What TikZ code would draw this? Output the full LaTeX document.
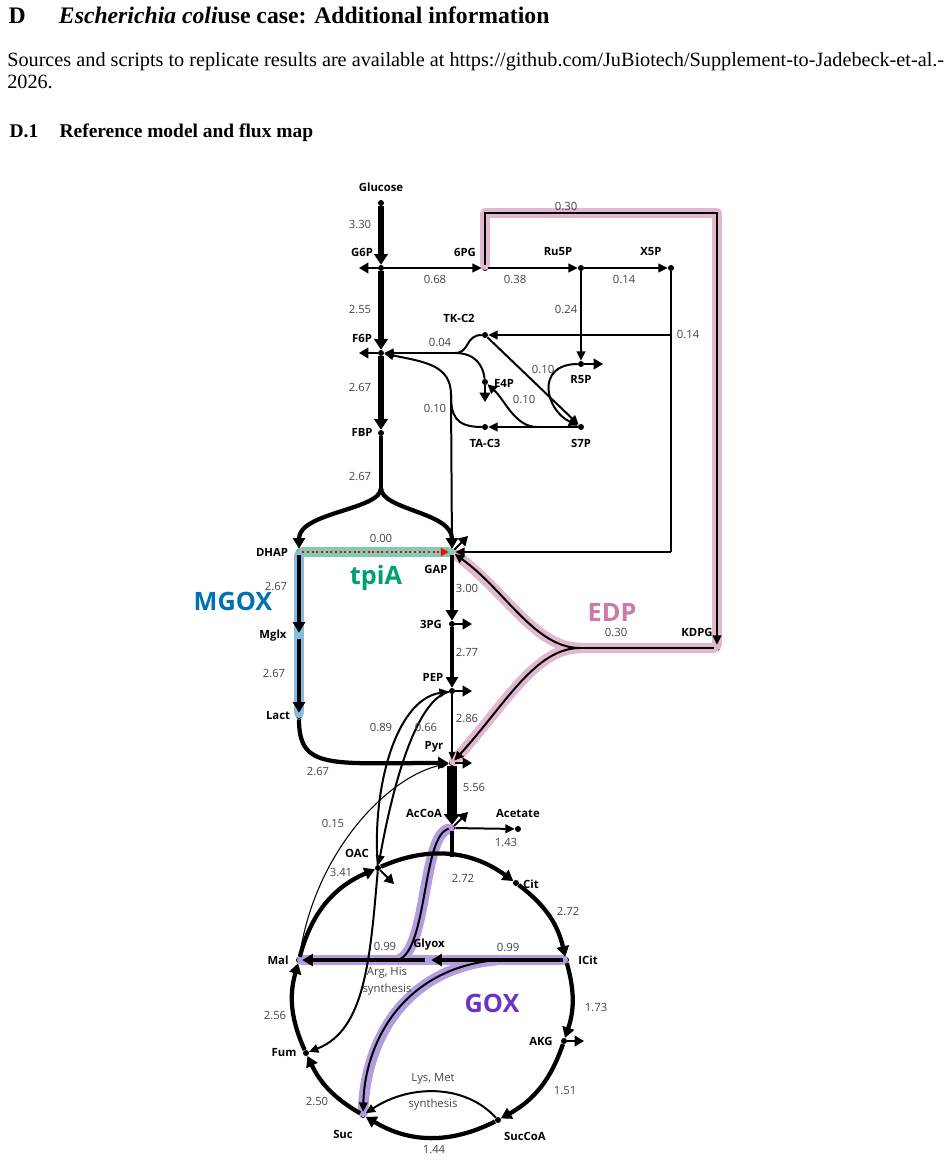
\documentclass[tikz,border=0pt]{standalone}
\usepackage{fontspec}
\setmainfont{Liberation Serif}
\setsansfont{Open Sans}
\usepackage{tikz}
\usetikzlibrary{positioning}
\usetikzlibrary{arrows.meta}
\definecolor{numgray}{HTML}{444444}
\definecolor{edppink}{HTML}{E2B8D0}
\definecolor{edptext}{HTML}{CC79A7}
\definecolor{mgblue}{HTML}{86BCDD}
\definecolor{mgtext}{HTML}{0072B2}
\definecolor{tpgreen}{HTML}{7FCCB2}
\definecolor{tptext}{HTML}{009E73}
\definecolor{goxpurple}{HTML}{B39DE0}
\definecolor{goxtext}{HTML}{6A32C8}
\tikzset {
  % metabolite dots
  met/.style = {circle, fill, inner sep=0pt, minimum size=4.5pt},
  lab/.style = {font=\sffamily\bfseries\fontsize{8.5}{10}\selectfont},
  num/.style = {font=\sffamily\fontsize{8.5}{10}\selectfont, text=numgray},
  big/.style = {font=\sffamily\bfseries\fontsize{19}{20}\selectfont},
  % flux widths
  f0/.style={line width=0.8pt, -{Triangle[length=6pt,width=5pt]}},
  f1/.style={line width=1.5pt, -{Triangle[length=7pt,width=6.5pt]}},
  f2/.style={line width=3.2pt, -{Triangle[length=8pt,width=9pt]}},
  f3/.style={line width=5pt, -{Triangle[length=8pt,width=10pt]}},
  efflux/.style={line width=1.5pt, -{Triangle[length=7pt,width=8pt]}},
  % pathway highlights
  hl/.style={line width=8pt, line cap=round, line join=round},
}
\begin{document}
\begin{tikzpicture}[x=0.0264cm, y=-0.0264cm]
  \useasboundingbox (0,0) rectangle (951,1162);

  % heading and text
  \node[anchor=west, font=\bfseries\fontsize{17.8}{20}\selectfont] (hd) at (4,15) {D\hspace{1.4em}\textit{Escherichia coli}use case: Additional information};
  \node[anchor=north west, align=left, inner sep=0pt, font=\fontsize{15.2}{16.5}\selectfont] (par) at (7,52) {Sources and scripts to replicate results are available at https://github.com/JuBiotech/Supplement-to-Jadebeck-et-al.-\\2026.};
  \node[anchor=west, font=\bfseries\fontsize{14.6}{16}\selectfont] (sec) at (5,133) {D.1\hspace{1.1em}Reference model and flux map};

  % metabolites
  \node[met] (Glc) at (381,203) {};
  \node[met] (G6P) at (381,268) {};
  \node[met] (6PG) at (485,268) {};
  \node[met] (Ru5P) at (581,268) {};
  \node[met] (X5P) at (671,268) {};
  \node[met] (F6P) at (381,353) {};
  \node[met] (TKC2) at (485,335) {};
  \node[met] (R5P) at (581,364) {};
  \node[met] (E4P) at (485,382) {};
  \node[met] (TAC3) at (485,427) {};
  \node[met] (S7P) at (581,427) {};
  \node[met] (FBP) at (381,433) {};
  \node[met] (DHAP) at (299,552) {};
  \node[met] (GAP) at (452,552) {};
  \node[met] (KDPG) at (717,648) {};
  \node[met] (3PG) at (452,624) {};
  \node[met] (Mglx) at (299,636) {};
  \node[met] (PEP) at (452,691) {};
  \node[met] (Lact) at (299,716) {};
  \node[met] (Pyr) at (452,763) {};
  \node[met] (AcCoA) at (452,828) {};
  \node[met] (Acet) at (518,829) {};
  \node[met] (OAC) at (378,868) {};
  \node[met] (Cit) at (516,883) {};
  \node[met] (ICit) at (566,960) {};
  \node[met] (Glyox) at (428,960) {};
  \node[met] (Mal) at (299,960) {};
  \node[met] (AKG) at (564,1041) {};
  \node[met] (Fum) at (306,1053) {};
  \node[met] (Suc) at (363,1115) {};
  \node[met] (SucCoA) at (498,1120) {};

  \coordinate (pp1) at (485,213);
  \coordinate (pp2) at (717,213);
  \coordinate (x5a) at (671,335);
  \coordinate (x5b) at (671,552);
  \coordinate (tkj) at (455,353);
  \coordinate (taj) at (451,395);
  \coordinate (s7j) at (537,427);
  \coordinate (fbj) at (381,488);
  \coordinate (edj) at (580,648);
  \coordinate (top) at (452,857);
  \coordinate (gxj) at (398,960);
  \coordinate (icj) at (497,960);

  % highlights
  \draw[hl, edppink] (6PG) -- (pp1) -- (pp2) -- (KDPG) -- (edj);
  \draw[hl, edppink] (edj) .. controls (535,648) and (505,590) .. (GAP);
  \draw[hl, edppink] (edj) .. controls (535,648) and (505,705) .. (Pyr);
  \draw[hl, tpgreen] (DHAP) -- (GAP);
  \draw[hl, mgblue] (DHAP) -- (Lact);
  \draw[hl, goxpurple] (ICit) -- (Mal);
  \draw[hl, goxpurple] (AcCoA) .. controls (422,835) and (428,950) .. (gxj);
  \draw[hl, goxpurple] (icj) .. controls (405,968) and (365,1040) .. (Suc);

  % upper glycolysis and PPP
  \draw[f3] (Glc) -- (G6P);
  \draw[efflux] (G6P) -- ++(-22,0);
  \draw[f1] (G6P) -- (6PG);
  \draw[f1] (6PG) -- (Ru5P);
  \draw[f1] (Ru5P) -- (X5P);
  \draw[f1] (6PG) -- (pp1) -- (pp2) -- (KDPG);
  \draw[f1] (Ru5P) -- (R5P);
  \draw[efflux] (R5P) -- ++(22,0);
  \draw[line width=1.5pt] (X5P) -- (x5b);
  \draw[f1] (x5a) -- (TKC2);
  \draw[f1] (x5b) -- (GAP);
  \draw[f3] (G6P) -- (F6P);
  \draw[efflux] (F6P) -- ++(-22,0);
  \draw[f3] (F6P) -- (FBP);
  \draw[line width=1.5pt] (TKC2) .. controls (465,335) and (470,353) .. (tkj);
  \draw[f1] (tkj) -- (F6P);
  \draw[line width=1.5pt] (tkj) .. controls (475,353) and (483,365) .. (E4P);
  \draw[efflux] (E4P) -- ++(0,20);
  \draw[f1] (TKC2) -- (S7P);
  \draw[f1] (R5P) .. controls (535,364) and (545,410) .. (S7P);
  \draw[f1] (S7P) -- (TAC3);
  \draw[f1] (s7j) .. controls (515,427) and (505,400) .. (E4P);
  \draw[line width=1.5pt] (TAC3) .. controls (455,427) and (451,415) .. (taj);
  \draw[f1] (taj) .. controls (451,365) and (425,362) .. (F6P);
  \draw[f1] (taj) -- (GAP);

  % lower glycolysis
  \draw[line width=3.2pt] (FBP) -- (fbj);
  \draw[f2] (fbj) .. controls (381,510) and (299,512) .. (DHAP);
  \draw[f2] (fbj) .. controls (381,510) and (452,512) .. (GAP);
  \draw[red, line width=1.5pt, dotted, -{Triangle[length=6pt,width=6pt]}] (DHAP) -- (GAP);
  \draw[efflux] (GAP) -- ++(16,-16);
  \draw[f2] (GAP) -- (3PG);
  \draw[efflux] (3PG) -- ++(20,0);
  \draw[f2] (3PG) -- (PEP);
  \draw[efflux] (PEP) -- ++(20,0);
  \draw[f0] (PEP) -- (Pyr);
  \draw[line width=1.5pt] (KDPG) -- (edj);
  \draw[f1] (edj) .. controls (535,648) and (505,590) .. (GAP);
  \draw[f1] (edj) .. controls (535,648) and (505,705) .. (Pyr);
  \draw[f2] (DHAP) -- (Mglx);
  \draw[f2] (Mglx) -- (Lact);
  \draw[f2] (Lact) .. controls (299,770) and (330,763) .. (Pyr);
  \draw[efflux] (Pyr) -- ++(20,0);
  \draw[line width=7pt, -{Triangle[length=8pt,width=12pt]}] (Pyr) -- (AcCoA);

  % TCA cycle and shunt
  \draw[f1] (AcCoA) -- (Acet);
  \draw[efflux] (AcCoA) -- ++(16,-16);
  \draw[line width=3pt] (AcCoA) -- (top);
  \draw[f1] (OAC) .. controls (372,790) and (395,700) .. (PEP);
  \draw[f1] (PEP) .. controls (415,700) and (392,790) .. (OAC);
  \draw[efflux] (OAC) -- ++(16,16);
  \draw[f0] (Mal) .. controls (315,850) and (390,775) .. (Pyr);
  \draw[f1] (OAC) .. controls (370,960) and (365,1030) .. (Fum);
  \draw[f2] (Mal) to[bend left=26] (OAC);
  \draw[f2] (OAC) to[bend left=30] (Cit);
  \draw[f2] (Cit) to[bend left=20] (ICit);
  \draw[f2] (ICit) to[bend left=17] (AKG);
  \draw[efflux] (AKG) -- ++(20,0);
  \draw[f2] (AKG) to[bend left=21] (SucCoA);
  \draw[f2] (SucCoA) to[bend left=29] (Suc);
  \draw[f1] (SucCoA) .. controls (465,1084) and (410,1084) .. (Suc);
  \draw[f2] (Suc) to[bend left=17] (Fum);
  \draw[f2] (Fum) to[bend left=20] (Mal);
  \draw[f2] (ICit) -- (Glyox);
  \draw[f2] (Glyox) -- (Mal);
  \draw[line width=1.5pt] (AcCoA) .. controls (422,835) and (428,950) .. (gxj);
  \draw[f1] (icj) .. controls (405,968) and (365,1040) .. (Suc);

  % metabolite names
  \node[lab] (lGlc) at (381,187) {Glucose};
  \node[lab] (lG6P) at (362,252) {G6P};
  \node[lab] (l6PG) at (465,252) {6PG};
  \node[lab] (lRu5P) at (558,252) {Ru5P};
  \node[lab] (lX5P) at (651,252) {X5P};
  \node[lab] (lTKC2) at (459,318) {TK-C2};
  \node[lab] (lF6P) at (362,338) {F6P};
  \node[lab] (lE4P) at (504,383) {E4P};
  \node[lab] (lR5P) at (581,380) {R5P};
  \node[lab] (lTAC3) at (485,443) {TA-C3};
  \node[lab] (lS7P) at (581,443) {S7P};
  \node[lab] (lFBP) at (362,432) {FBP};
  \node[lab] (lDHAP) at (272,552) {DHAP};
  \node[lab] (lGAP) at (436,569) {GAP};
  \node[lab] (l3PG) at (431,624) {3PG};
  \node[lab] (lMglx) at (273,636) {Mglx};
  \node[lab] (lKDPG) at (697,632) {KDPG};
  \node[lab] (lPEP) at (433,677) {PEP};
  \node[lab] (lLact) at (278,716) {Lact};
  \node[lab] (lPyr) at (434,747) {Pyr};
  \node[lab] (lAcCoA) at (424,813) {AcCoA};
  \node[lab] (lAcet) at (518,813) {Acetate};
  \node[lab] (lOAC) at (357,853) {OAC};
  \node[lab] (lCit) at (531,884) {Cit};
  \node[lab] (lICit) at (588,960) {ICit};
  \node[lab] (lGlyox) at (429,945) {Glyox};
  \node[lab] (lMal) at (278,960) {Mal};
  \node[lab] (lAKG) at (541,1041) {AKG};
  \node[lab] (lFum) at (284,1053) {Fum};
  \node[lab] (lSuc) at (343,1134) {Suc};
  \node[lab] (lSucCoA) at (525,1136) {SucCoA};

  % flux values
  \node[num] (n1) at (360,224) {3.30};
  \node[num] (n2) at (566,206) {0.30};
  \node[num] (n3) at (435,279) {0.68};
  \node[num] (n4) at (515,279) {0.38};
  \node[num] (n5) at (624,279) {0.14};
  \node[num] (n6) at (566,309) {0.24};
  \node[num] (n7) at (688,334) {0.14};
  \node[num] (n8) at (360,309) {2.55};
  \node[num] (n9) at (440,342) {0.04};
  \node[num] (n10) at (543,369) {0.10};
  \node[num] (n11) at (524,399) {0.10};
  \node[num] (n12) at (435,408) {0.10};
  \node[num] (n13) at (360,387) {2.67};
  \node[num] (n14) at (360,476) {2.67};
  \node[num] (n15) at (381,538) {0.00};
  \node[num] (n16) at (467,588) {3.00};
  \node[num] (n17) at (616,632) {0.30};
  \node[num] (n18) at (467,652) {2.77};
  \node[num] (n19) at (467,718) {2.86};
  \node[num] (n20) at (276,586) {2.67};
  \node[num] (n21) at (274,673) {2.67};
  \node[num] (n22) at (318,771) {2.67};
  \node[num] (n23) at (381,727) {0.89};
  \node[num] (n24) at (426,727) {0.66};
  \node[num] (n25) at (474,787) {5.56};
  \node[num] (n26) at (506,842) {1.43};
  \node[num] (n27) at (333,823) {0.15};
  \node[num] (n28) at (341,872) {3.41};
  \node[num] (n29) at (463,878) {2.72};
  \node[num] (n30) at (568,911) {2.72};
  \node[num] (n31) at (508,947) {0.99};
  \node[num] (n32) at (385,946) {0.99};
  \node[num] (n33) at (596,1007) {1.73};
  \node[num] (n34) at (565,1091) {1.51};
  \node[num] (n35) at (434,1150) {1.44};
  \node[num] (n36) at (317,1101) {2.50};
  \node[num] (n37) at (275,1015) {2.56};
  \node[num, align=center] (n38) at (387,981) {Arg, His\\[3pt]synthesis};
  \node[num] (n39) at (433,1079) {Lys, Met};
  \node[num] (n40) at (433,1105) {synthesis};

  % pathway names
  \node[big, mgtext] (tMGOX) at (233,601) {MGOX};
  \node[big, tptext] (ttpiA) at (376,578) {tpiA};
  \node[big, edptext] (tEDP) at (612,612) {EDP};
  \node[big, goxtext] (tGOX) at (492,1003) {GOX};
\end{tikzpicture}
\end{document}
